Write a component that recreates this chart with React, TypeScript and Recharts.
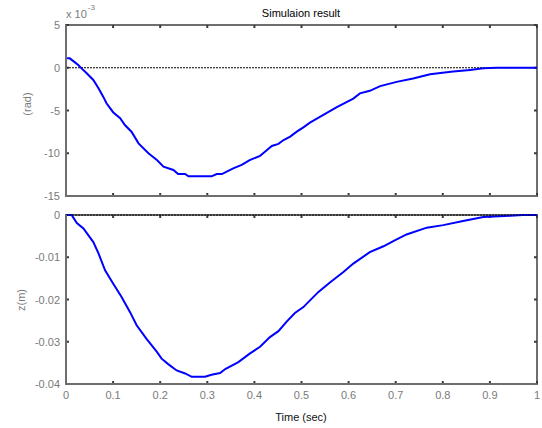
import React from 'react';
import { LineChart, Line, XAxis, YAxis, ReferenceLine, ReferenceArea, Label } from 'recharts';

// ---- data ----
const timeTop = [0, 0.008, 0.019, 0.026, 0.033, 0.044, 0.058, 0.069, 0.079, 0.086, 0.1, 0.115, 0.125, 0.139, 0.154, 0.175, 0.193, 0.207, 0.228, 0.238, 0.253, 0.26, 0.309, 0.32, 0.331, 0.355, 0.373, 0.39, 0.412, 0.423, 0.437, 0.451, 0.462, 0.476, 0.49, 0.504, 0.518, 0.539, 0.575, 0.61, 0.624, 0.645, 0.667, 0.702, 0.737, 0.773, 0.822, 0.858, 0.886, 0.914, 0.95, 1.0];
// pitch angle in units of 10^-3 rad
const pitchTop = [1.1, 1.1, 0.63, 0.32, -0.07, -0.65, -1.43, -2.4, -3.38, -4.16, -5.2, -5.9, -6.7, -7.48, -8.84, -10.0, -10.8, -11.57, -11.96, -12.43, -12.43, -12.7, -12.7, -12.43, -12.43, -11.76, -11.37, -10.8, -10.3, -9.8, -9.15, -8.9, -8.45, -8.06, -7.47, -6.97, -6.42, -5.75, -4.6, -3.6, -3.0, -2.7, -2.15, -1.65, -1.25, -0.75, -0.45, -0.25, -0.07, 0, 0, 0];

const timeBottom = [0, 0.012, 0.023, 0.037, 0.058, 0.069, 0.083, 0.1, 0.118, 0.136, 0.15, 0.171, 0.193, 0.203, 0.217, 0.235, 0.253, 0.267, 0.295, 0.309, 0.327, 0.339, 0.366, 0.39, 0.412, 0.433, 0.451, 0.468, 0.486, 0.504, 0.518, 0.536, 0.561, 0.589, 0.61, 0.645, 0.674, 0.698, 0.723, 0.766, 0.801, 0.843, 0.886, 0.943, 0.97, 1.0];
const heaveBottom = [0, 0, -0.0019, -0.0032, -0.0064, -0.0091, -0.0131, -0.0162, -0.0194, -0.023, -0.0261, -0.0293, -0.0324, -0.034, -0.0353, -0.0368, -0.0375, -0.0383, -0.0383, -0.0378, -0.0374, -0.0364, -0.0348, -0.0328, -0.0312, -0.0289, -0.0275, -0.0253, -0.0232, -0.0218, -0.0202, -0.0182, -0.0159, -0.0135, -0.0115, -0.0088, -0.0074, -0.006, -0.0046, -0.003, -0.0024, -0.0014, -0.0005, -0.0002, 0, 0];

const xTicks = [0, 0.1, 0.2, 0.3, 0.4, 0.5, 0.6, 0.7, 0.8, 0.9, 1];
const yTicksTop = [-15, -10, -5, 0, 5];
const yTicksBottom = [-0.04, -0.03, -0.02, -0.01, 0];

const titleText = 'Simulaion result';
const yLabelTop = '(rad)';
const yLabelBottom = 'z(m)';
const xLabel = 'Time (sec)';

const fmtX = (v: number) => (v === 0 ? '0' : v === 1 ? '1' : String(Math.round(v * 10) / 10));
const fmtYTop = (v: number) => String(v);
const fmtYBottom = (v: number) => (v === 0 ? '0' : String(Math.round(v * 100) / 100));

// inward tick marks at both ends of a vertical reference line
function VMarks(props: any) {
  const { x1, y1, y2 } = props;
  const top = Math.min(y1, y2);
  const bot = Math.max(y1, y2);
  return (
    <g>
      <line x1={x1} y1={top} x2={x1} y2={top + 3} stroke="#3a3a3a" strokeWidth={2} />
      <line x1={x1} y1={bot} x2={x1} y2={bot - 3} stroke="#3a3a3a" strokeWidth={2} />
    </g>
  );
}

// inward tick marks at both ends of a horizontal reference line
function HMarks(props: any) {
  const { x1, x2, y1 } = props;
  const left = Math.min(x1, x2);
  const right = Math.max(x1, x2);
  return (
    <g>
      <line x1={left} y1={y1} x2={left + 3} y2={y1} stroke="#3a3a3a" strokeWidth={2} />
      <line x1={right} y1={y1} x2={right - 3} y2={y1} stroke="#3a3a3a" strokeWidth={2} />
    </g>
  );
}

function Panel(props: any) {
  const { times, values, yDomain, yTicks, fmtY, height, margin, xAxisHeight, showX, xLabelContent, yLabelContent, zeroOnTop } = props;
  const data = times.map((t: number, i: number) => ({ t, v: values[i] }));
  const leftTick = (p: any) => (
    <text x={p.x - 6} y={p.y + 4} textAnchor="end" fontSize={11} fill="#7a7a7a">
      {fmtY(p.payload.value)}
    </text>
  );
  const bottomTick = (p: any) =>
    showX ? (
      <text x={p.x} y={p.y + 15} textAnchor="middle" fontSize={11} fill="#7a7a7a">
        {fmtX(p.payload.value)}
      </text>
    ) : (
      <g />
    );
  return (
    <LineChart width={542} height={height} data={data} margin={margin}>
      <XAxis
        dataKey="t"
        type="number"
        domain={[0, 1]}
        ticks={xTicks}
        interval={0}
        height={xAxisHeight}
        tickSize={0}
        tickMargin={0}
        tickLine={false}
        axisLine={{ stroke: '#6e6e6e', strokeWidth: 2 }}
        tick={bottomTick}
      >
        <Label content={xLabelContent} />
      </XAxis>
      <YAxis
        type="number"
        domain={yDomain}
        ticks={yTicks}
        interval={0}
        width={66}
        tickSize={0}
        tickMargin={0}
        tickLine={false}
        axisLine={{ stroke: '#6e6e6e', strokeWidth: 2 }}
        tick={leftTick}
      >
        <Label content={yLabelContent} />
      </YAxis>
      <ReferenceArea x1={0} x2={1} y1={yDomain[0]} y2={yDomain[1]} fill="none" fillOpacity={0} stroke="#6e6e6e" strokeWidth={2} />
      <ReferenceLine x={0} stroke="#6e6e6e" strokeWidth={2} />
      <ReferenceLine x={1} stroke="#6e6e6e" strokeWidth={2} />
      <ReferenceLine y={yDomain[0]} stroke="#6e6e6e" strokeWidth={2} />
      <ReferenceLine y={yDomain[1]} stroke="#6e6e6e" strokeWidth={2} />
      {xTicks.map((v) => (
        <ReferenceLine key={'mx' + v} x={v} stroke="#3a3a3a" shape={VMarks} />
      ))}
      {yTicks.map((v: number) => (
        <ReferenceLine key={'my' + v} y={v} stroke="#3a3a3a" shape={HMarks} />
      ))}
      {!zeroOnTop && <ReferenceLine y={0} stroke="#000" strokeWidth={1} strokeDasharray="2 1" />}
      <Line dataKey="v" stroke="#0000ff" strokeWidth={2} dot={false} type="linear" isAnimationActive={false} />
      {zeroOnTop && <ReferenceLine y={0} stroke="#000" strokeWidth={1} strokeDasharray="2 1" />}
    </LineChart>
  );
}

const TitleLabel = () => (
  <text x={301} y={16.5} textAnchor="middle" fontSize={11} fill="#000">
    {titleText}
  </text>
);

const TopYLabels = () => (
  <g>
    <text x={27} y={104} transform="rotate(-90 27 104)" textAnchor="middle" dy={4} fontSize={11} fill="#7a7a7a">
      {yLabelTop}
    </text>
    <text x={66} y={18} fontSize={11} fill="#7a7a7a">
      <tspan>x 10</tspan>
      <tspan dx={1} dy={-8} fontSize={8}>-3</tspan>
    </text>
  </g>
);

const ZLabel = () => (
  <text x={21} y={100} transform="rotate(-90 21 100)" textAnchor="middle" dy={4} fontSize={11} fill="#7a7a7a">
    {yLabelBottom}
  </text>
);

const TimeLabel = () => (
  <text x={301} y={220.5} textAnchor="middle" fontSize={11} fill="#111">
    {xLabel}
  </text>
);

export default function App() {
  return (
    <div
      style={{
        position: 'absolute',
        left: 0,
        top: 0,
        width: 542,
        height: 428,
        fontFamily: '"Liberation Sans", Arial, sans-serif',
      }}
    >
      <div style={{ position: 'absolute', left: 0, top: 0 }}>
        <Panel
          times={timeTop}
          values={pitchTop}
          yDomain={[-15, 5]}
          yTicks={yTicksTop}
          fmtY={fmtYTop}
          height={210}
          margin={{ top: 25, right: 5, bottom: 13, left: 0 }}
          xAxisHeight={1}
          showX={false}
          xLabelContent={TitleLabel}
          yLabelContent={TopYLabels}
          zeroOnTop={false}
        />
      </div>
      <div style={{ position: 'absolute', left: 0, top: 200 }}>
        <Panel
          times={timeBottom}
          values={heaveBottom}
          yDomain={[-0.04, 0]}
          yTicks={yTicksBottom}
          fmtY={fmtYBottom}
          height={228}
          margin={{ top: 15, right: 5, bottom: 0, left: 0 }}
          xAxisHeight={44}
          showX={true}
          xLabelContent={TimeLabel}
          yLabelContent={ZLabel}
          zeroOnTop={true}
        />
      </div>
    </div>
  );
}
